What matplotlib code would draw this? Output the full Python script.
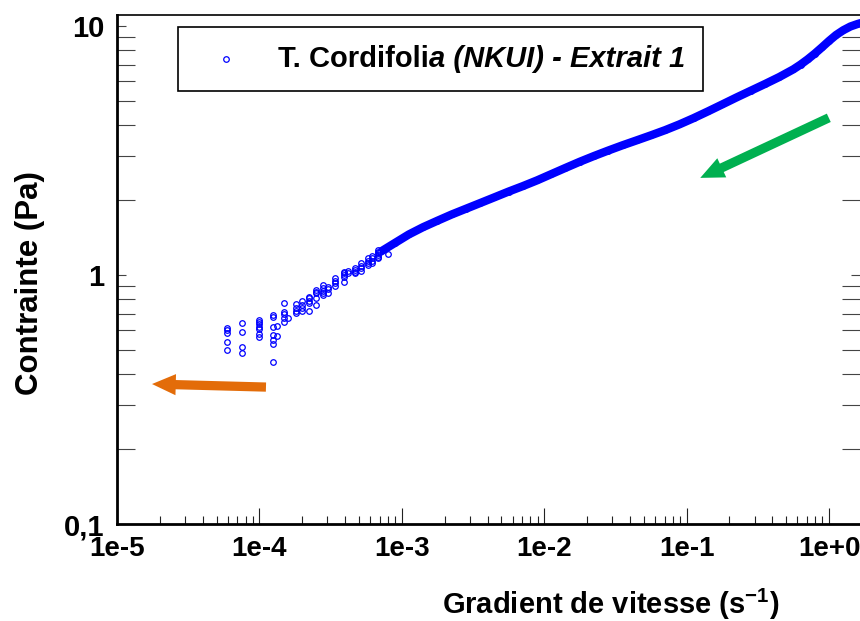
import matplotlib
matplotlib.use("Agg")
import matplotlib.pyplot as plt
from matplotlib.lines import Line2D
from matplotlib.offsetbox import AnchoredOffsetbox, TextArea, HPacker, DrawingArea
from matplotlib.ticker import FixedLocator, FixedFormatter, LogLocator, NullFormatter

plt.rcParams['font.family'] = ['Liberation Sans', 'DejaVu Sans']
plt.rcParams['font.weight'] = 'bold'
plt.rcParams['mathtext.fontset'] = 'custom'
plt.rcParams['mathtext.rm'] = 'Liberation Sans:bold'
plt.rcParams['mathtext.it'] = 'Liberation Sans:bold:italic'

# scattered low-shear-rate measurements
scatter_rate = [5.89e-5]*5 + [7.52e-5]*4 + [9.98e-5]*7 + [1.24e-4]*7 + [1.33e-4]*2 \
    + [1.49e-4]*5 + [1.60e-4] + [1.82e-4]*4 + [1.98e-4]*4 + [2.24e-4]*5 + [2.48e-4]*5 \
    + [2.81e-4]*5 + [3.01e-4]*3 + [3.38e-4]*4 + [3.93e-4]*5 + [4.21e-4]*2 + [4.69e-4]*4 \
    + [5.16e-4]*4 + [5.79e-4]*4 + [6.22e-4]*4 + [6.84e-4]*6 + [8.0e-4]
scatter_stress = [0.611, 0.601, 0.586, 0.540, 0.500,
                  0.640, 0.592, 0.513, 0.485,
                  0.659, 0.649, 0.635, 0.619, 0.605, 0.578, 0.562,
                  0.690, 0.681, 0.617, 0.574, 0.548, 0.528, 0.449,
                  0.624, 0.569,
                  0.774, 0.713, 0.697, 0.670, 0.649,
                  0.670,
                  0.766, 0.735, 0.719, 0.706,
                  0.789, 0.759, 0.735, 0.719,
                  0.818, 0.805, 0.789, 0.769, 0.719,
                  0.871, 0.857, 0.845, 0.805, 0.759,
                  0.912, 0.885, 0.865, 0.845, 0.832,
                  0.897, 0.877, 0.849,
                  0.971, 0.948, 0.927, 0.904,
                  1.030, 1.016, 1.000, 0.979, 0.940,
                  1.040, 1.016,
                  1.064, 1.047, 1.030, 1.016,
                  1.114, 1.086, 1.064, 1.040,
                  1.167, 1.140, 1.119, 1.096,
                  1.191, 1.167, 1.140, 1.114,
                  1.259, 1.239, 1.222, 1.202, 1.186, 1.167,
                  1.213]

# dense measurements (continuous band)
dense_rate = [7.08e-4, 8.91e-4, 1.12e-3, 1.41e-3, 1.78e-3, 2.24e-3, 2.82e-3, 3.55e-3,
              4.47e-3, 5.62e-3, 7.08e-3, 8.91e-3, 1.12e-2, 1.41e-2, 1.78e-2, 2.24e-2,
              2.82e-2, 3.55e-2, 4.47e-2, 5.62e-2, 7.08e-2, 8.91e-2, 0.112, 0.141,
              0.178, 0.224, 0.282, 0.355, 0.447, 0.562, 0.631, 0.708, 0.794, 0.891,
              1.0, 1.122, 1.259, 1.413, 1.585, 1.698]
dense_stress = [1.239, 1.343, 1.455, 1.556, 1.652, 1.750, 1.845, 1.945,
                2.051, 2.163, 2.275, 2.399, 2.541, 2.692, 2.851, 3.006,
                3.162, 3.319, 3.475, 3.639, 3.819, 4.027, 4.266, 4.539,
                4.842, 5.164, 5.495, 5.848, 6.237, 6.699, 6.998, 7.345, 7.745, 8.204,
                8.710, 9.204, 9.616, 9.954, 10.186, 10.304]

x_ticks = [1e-5, 1e-4, 1e-3, 1e-2, 1e-1, 1e0]
x_ticklabels = ['1e-5', '1e-4', '1e-3', '1e-2', '1e-1', '1e+0']
y_ticks = [0.1, 1, 10]
y_ticklabels = ['0,1', '1', '10']
legend_label_upright = 'T. Cordifoli'
legend_label_italic = 'a (NKUI) - Extrait 1'

BLUE = '#0000ff'
FS = 21

fig = plt.figure(figsize=(8.6, 6.21), dpi=100)
ax = fig.add_axes([117/860, 97/621, 743/860, 509/621])
ax.set_xscale('log')
ax.set_yscale('log')
ax.set_xlim(1e-5, 10**((860-117)/142.4 - 5))
ax.set_ylim(0.1, 10**(-1 + 509/249))

ax.plot(dense_rate, dense_stress, '-', color=BLUE, lw=6.0, solid_capstyle='butt',
        solid_joinstyle='round', zorder=3)
ax.plot(scatter_rate, scatter_stress, 'o', ms=4.0, mfc='none', mec=BLUE, mew=0.9, zorder=4)
ax.plot(dense_rate, dense_stress, 'o', ms=4.0, mfc='none', mec=BLUE, mew=0.9, zorder=4)

ax.xaxis.set_major_locator(FixedLocator(x_ticks))
ax.xaxis.set_major_formatter(FixedFormatter(x_ticklabels))
ax.xaxis.set_minor_locator(LogLocator(base=10, subs=range(2, 10), numticks=20))
ax.xaxis.set_minor_formatter(NullFormatter())
ax.yaxis.set_major_locator(FixedLocator(y_ticks))
ax.yaxis.set_major_formatter(FixedFormatter(y_ticklabels))
ax.yaxis.set_minor_locator(LogLocator(base=10, subs=range(2, 10), numticks=20))
ax.yaxis.set_minor_formatter(NullFormatter())

ax.tick_params(axis='x', which='major', direction='in', length=11.5, width=0.8,
               color='#222222', labelsize=20, pad=9, top=False)
ax.tick_params(axis='x', which='minor', direction='in', length=5.8, width=0.8,
               color='#222222', top=False)
ax.tick_params(axis='y', which='major', direction='in', length=6.5, width=0.8,
               color='#444444', labelsize=FS, pad=9, right=True)
ax.tick_params(axis='y', which='minor', direction='in', length=13, width=0.8,
               color='#444444', right=True)
for lab in ax.get_xticklabels() + ax.get_yticklabels():
    lab.set_fontweight('bold')

ax.spines['left'].set_linewidth(2.0)
ax.spines['bottom'].set_linewidth(2.0)
ax.spines['top'].set_linewidth(1.2)
ax.spines['right'].set_visible(False)

fig.text(611/860, 1 - 604/621, r'Gradient de vitesse (s$^{\mathregular{-1}}$)',
         ha='center', va='center', fontsize=FS, fontweight='bold')
fig.text(30/860, 1 - 283/621, 'Contrainte (Pa)', rotation=90,
         ha='center', va='center', fontsize=22.5, fontweight='bold')

# legend (DrawingArea and sep are in points)
da = DrawingArea(28.8, 14, 0, 0)
da.add_artist(Line2D([21.6], [7], marker='o', ms=4.0, mfc='none', mec=BLUE, mew=0.9, ls='none'))
t1 = TextArea(legend_label_upright, textprops=dict(fontsize=FS, fontweight='bold'))
t2 = TextArea(legend_label_italic, textprops=dict(fontsize=FS, fontweight='bold', style='italic'))
txt = HPacker(children=[t1, t2], align='baseline', pad=0, sep=0)
box = HPacker(children=[da, txt], align='center', pad=0, sep=30)
anch = AnchoredOffsetbox(loc='upper left', child=box, pad=1.3, borderpad=0,
                         frameon=True, bbox_to_anchor=((178-117)/743, (524-27)/509),
                         bbox_transform=ax.transAxes)
anch.patch.set_boxstyle('square', pad=0)
anch.patch.set_edgecolor('black')
anch.patch.set_linewidth(1.2)
ax.add_artist(anch)

# arrows
ax.annotate('', xy=(0.785, 0.680), xytext=(0.958, 0.798), xycoords='axes fraction',
            textcoords='axes fraction',
            arrowprops=dict(arrowstyle='simple,head_length=0.9,head_width=0.8,tail_width=0.35',
                            mutation_scale=19, color='#00b050', lw=0, shrinkA=0, shrinkB=0))
ax.annotate('', xy=(0.0471, 0.275), xytext=(0.2005, 0.269), xycoords='axes fraction',
            textcoords='axes fraction',
            arrowprops=dict(arrowstyle='simple,head_length=0.9,head_width=0.8,tail_width=0.35',
                            mutation_scale=19, color='#e36c09', lw=0, shrinkA=0, shrinkB=0))

fig.savefig('out.png', dpi=100)
